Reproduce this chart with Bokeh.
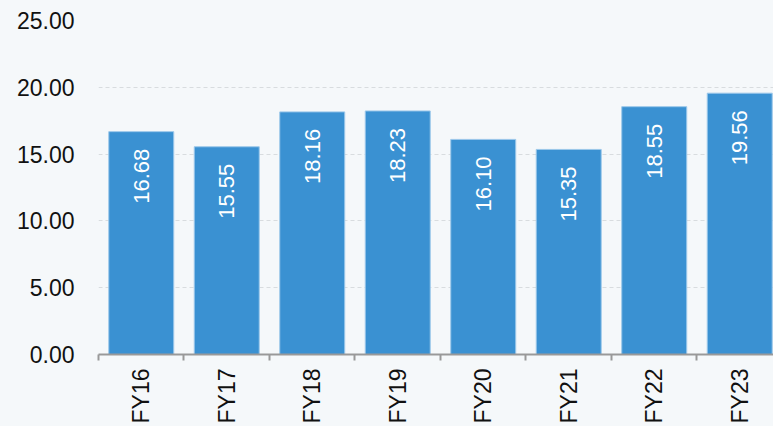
import math
from bokeh.plotting import figure
from bokeh.models import Range1d, FixedTicker, NumeralTickFormatter, ColumnDataSource
from bokeh.core.properties import value
from bokeh.embed import file_html
from bokeh.resources import INLINE

categories = ["FY16", "FY17", "FY18", "FY19", "FY20", "FY21", "FY22", "FY23"]
values = [16.68, 15.55, 18.16, 18.23, 16.10, 15.35, 18.55, 19.56]
y_ticks = [0, 5, 10, 15, 20, 25]

BG = "#f5f8fa"
BAR = "#3a91d2"
FONT = "Liberation Sans"

xs = [i + 0.5 for i in range(len(categories))]
src = ColumnDataSource(dict(x=xs, top=values, label=["%.2f" % v for v in values]))

p = figure(width=773, height=426, output_backend="svg", toolbar_location=None,
           x_range=Range1d(0, 7.895), y_range=Range1d(0, 25),
           min_border_left=98, min_border_right=0, min_border_top=20, min_border_bottom=72)
p.background_fill_color = BG
p.border_fill_color = BG
p.outline_line_color = None

p.vbar(x="x", top="top", width=0.76, bottom=0, source=src,
       fill_color=BAR, line_color="#9cc8ea", line_width=1)

p.text(x="x", y="top", text="label", source=src, angle=math.pi / 2,
       text_align="right", text_baseline="middle", y_offset=17,
       text_color="white", text_font=value(FONT), text_font_size="22px")

# x axis: labels at centres, boundary ticks as minor ticks
p.xaxis.ticker = FixedTicker(ticks=xs, minor_ticks=list(range(len(categories) + 1)))
p.xaxis.major_label_overrides = {x: c for x, c in zip(xs, categories)}
p.xaxis.major_label_orientation = math.pi / 2
p.xaxis.major_tick_out = 0
p.xaxis.major_tick_in = 0
p.xaxis.minor_tick_out = 6
p.xaxis.minor_tick_in = 0
p.xaxis.minor_tick_line_color = "#999999"
p.xaxis.minor_tick_line_width = 2
p.xaxis.axis_line_color = "#999999"
p.xaxis.axis_line_width = 2
p.xaxis.major_label_standoff = 8
p.xaxis.major_label_text_font = FONT
p.xaxis.major_label_text_font_size = "23px"
p.xaxis.major_label_text_color = "#111111"

p.yaxis.ticker = FixedTicker(ticks=y_ticks)
p.yaxis.formatter = NumeralTickFormatter(format="0.00")
p.yaxis.axis_line_color = None
p.yaxis.major_tick_line_color = None
p.yaxis.minor_tick_line_color = None
p.yaxis.major_label_standoff = 18
p.yaxis.major_label_text_font = FONT
p.yaxis.major_label_text_font_size = "23px"
p.yaxis.major_label_text_color = "#111111"

p.xgrid.grid_line_color = None
p.ygrid.grid_line_color = "#d8dcdf"
p.ygrid.grid_line_dash = "4 3"

html = file_html(p, INLINE)
html = html.replace("<head>", "<head><style>html,body{background:%s;}</style>" % BG, 1)
open("out.html", "w").write(html)
